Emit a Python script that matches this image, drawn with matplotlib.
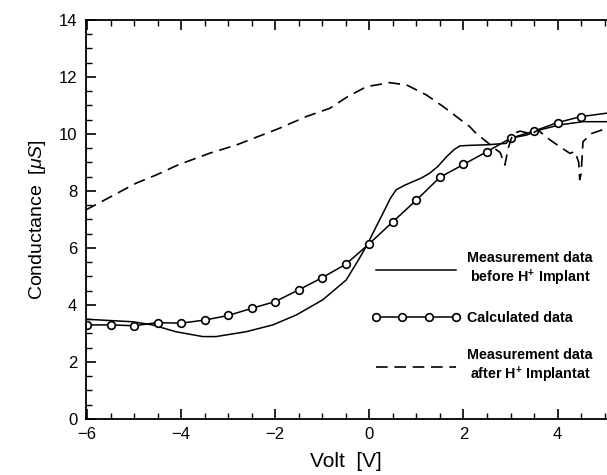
import matplotlib
matplotlib.use("Agg")
import matplotlib.pyplot as plt
from matplotlib.ticker import MultipleLocator

plt.rcParams['font.family'] = ['Liberation Sans', 'DejaVu Sans']
plt.rcParams['mathtext.fontset'] = 'custom'
plt.rcParams['mathtext.it'] = 'Liberation Sans:italic'
plt.rcParams['mathtext.rm'] = 'Liberation Sans'
plt.rcParams['mathtext.bf'] = 'Liberation Sans:bold'

# measured before implant (solid)
before_v = [-6.03, -5.03, -4.61, -4.11, -3.54, -3.26, -2.62, -2.05, -1.55, -0.99,
            -0.49, -0.21, -0.05, 0.1, 0.29, 0.45, 0.57, 0.75, 0.93, 1.1, 1.28,
            1.45, 1.64, 1.8, 1.92, 2.13, 2.5, 2.91, 2.99, 3.34, 3.62, 4.05, 4.54, 5.05]
before_g = [3.50, 3.41, 3.30, 3.06, 2.89, 2.89, 3.06, 3.30, 3.65, 4.18,
            4.88, 5.64, 6.10, 6.60, 7.22, 7.75, 8.04, 8.20, 8.33, 8.45, 8.62,
            8.85, 9.20, 9.45, 9.58, 9.60, 9.62, 9.67, 9.85, 9.96, 10.14, 10.32, 10.43, 10.43]

# calculated (circles every 0.5 V, line runs on to the edge)
calc_v = [-6.0, -5.5, -5.0, -4.5, -4.0, -3.5, -3.0, -2.5, -2.0, -1.5, -1.0, -0.5,
          0.0, 0.5, 1.0, 1.5, 2.0, 2.5, 3.0, 3.5, 4.0, 4.5, 5.05]
calc_g = [3.30, 3.30, 3.27, 3.38, 3.36, 3.47, 3.63, 3.88, 4.12, 4.53, 4.96, 5.43,
          6.15, 6.92, 7.68, 8.48, 8.93, 9.38, 9.85, 10.10, 10.40, 10.61, 10.73]

# measured after implant (dashed)
after_v = [-6.03, -5.56, -4.96, -4.53, -4.07, -3.40, -2.83, -2.19, -1.91, -1.34,
           -0.84, -0.46, -0.06, 0.43, 0.79, 1.21, 1.57, 1.85, 2.13, 2.28, 2.49,
           2.65, 2.78, 2.88, 2.95, 3.05, 3.2, 3.45, 3.58, 3.84, 4.05, 4.26, 4.37,
           4.45, 4.47, 4.5, 4.54, 4.73, 5.05]
after_g = [7.33, 7.74, 8.27, 8.56, 8.91, 9.32, 9.61, 10.02, 10.20, 10.61,
           10.90, 11.31, 11.66, 11.80, 11.72, 11.37, 10.96, 10.61, 10.26, 10.0, 9.73,
           9.50, 9.35, 8.91, 9.5, 10.0, 10.1, 10.0, 10.14, 9.79, 9.55, 9.32, 9.38,
           9.0, 8.4, 8.6, 9.73, 10.02, 10.2]

fig = plt.figure(figsize=(6.07, 4.75), dpi=100)
ax = fig.add_axes([0.141, 0.118, 0.859, 0.840])

ax.plot(before_v, before_g, color='black', lw=1.1,
        label='Measurement data\nbefore H$^{\\mathbf{+}}$ Implant')
ax.plot(calc_v, calc_g, color='black', lw=1.1, marker='o', ms=5.5,
        mfc='white', mec='black', mew=1.2, markevery=list(range(len(calc_v) - 1)),
        label='Calculated data')
ax.plot(after_v, after_g, color='black', lw=1.2, dashes=(7, 4),
        label='Measurement data\nafter H$^{\\mathbf{+}}$ Implantat')

ax.set_xlim(-6.03, 5.05)
ax.set_ylim(0, 14)
ax.xaxis.set_major_locator(MultipleLocator(2))
ax.xaxis.set_minor_locator(MultipleLocator(0.5))
ax.yaxis.set_major_locator(MultipleLocator(2))
ax.yaxis.set_minor_locator(MultipleLocator(0.5))
ax.tick_params(which='both', direction='in', top=True, right=False, labelsize=12, pad=6)
ax.tick_params(which='major', length=7, width=1.2)
ax.tick_params(which='minor', length=4, width=1.0)
for s in ['left', 'bottom', 'top']:
    ax.spines[s].set_linewidth(1.3)
ax.spines['right'].set_visible(False)

ax.set_xlabel('Volt  [V]', fontsize=15, labelpad=7)
ax.set_ylabel('Conductance  [$\\mu S$]', fontsize=14, labelpad=8)

leg = ax.legend(loc='lower right', bbox_to_anchor=(0.973, 0.085), frameon=False,
                handlelength=6.2, handletextpad=0.5, labelspacing=1.6,
                borderpad=0, borderaxespad=0, numpoints=4,
                prop={'weight': 'bold', 'size': 10.3})
for t in leg.get_texts():
    t.set_multialignment('center')

fig.savefig('out.png', dpi=100)
